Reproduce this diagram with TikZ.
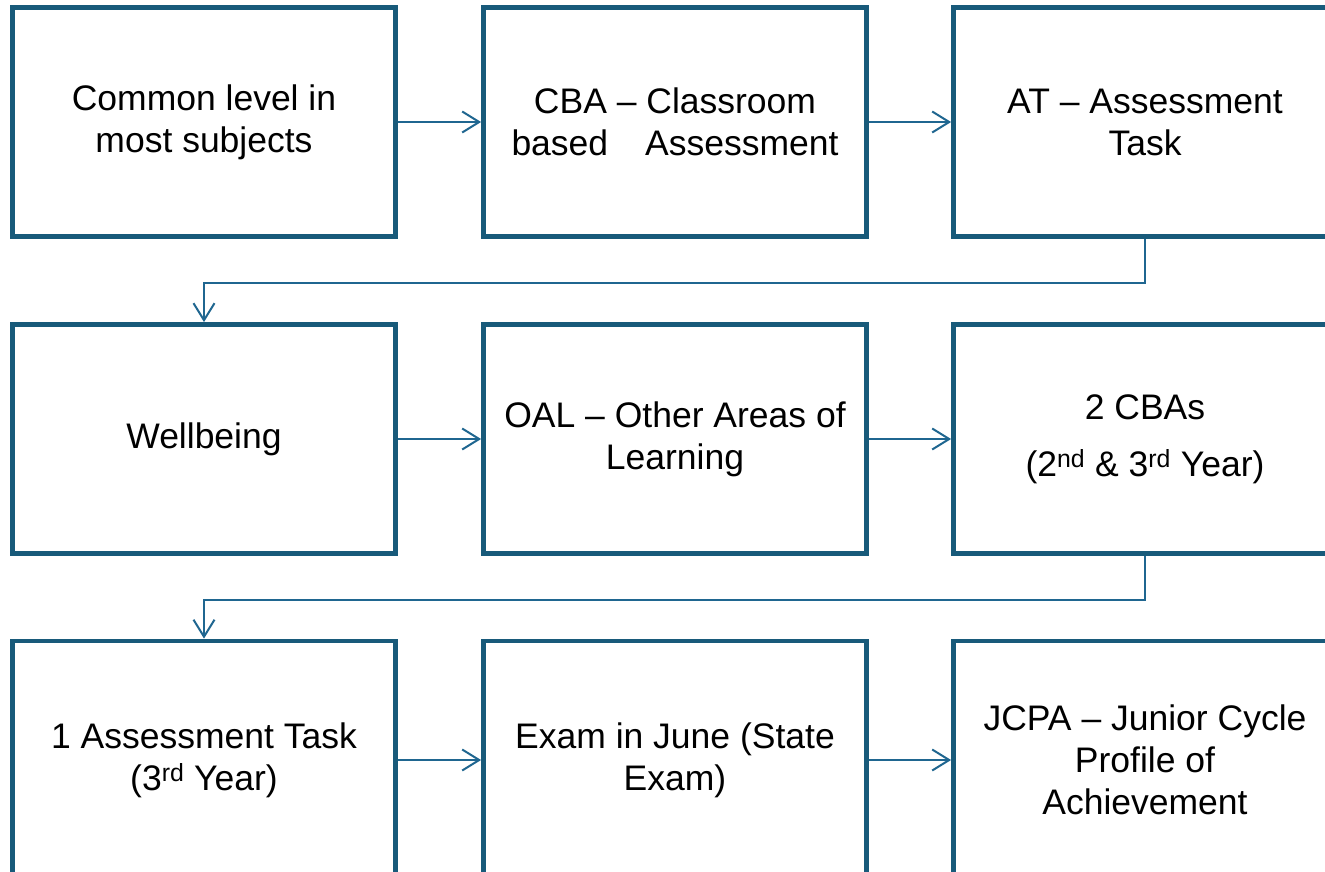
\documentclass[tikz,border=0pt]{standalone}
\usepackage{fontspec}
\setmainfont{Liberation Sans}
\usetikzlibrary{arrows.meta}
\definecolor{boxc}{HTML}{185A7A}
\definecolor{arrc}{HTML}{1F6690}
\tikzset{
  box/.style={draw=boxc, line width=4.8pt, fill=white, rectangle, minimum width=383pt, minimum height=229pt,
    align=center, inner sep=0pt, font=\fontsize{35.5}{42}\selectfont},
  lowbox/.style={box, minimum height=238pt},
  conn/.style={draw=arrc, line width=2pt, -{Straight Barb[length=17pt,width=21pt,line width=2pt]}}
}
\begin{document}
\begin{tikzpicture}[x=1pt,y=1pt]
\useasboundingbox (0,0) rectangle (1325,-871);
\node[box] (a1) at (204,-122) {Common level in\\most subjects};
\node[box] (a2) at (675,-122) {CBA -- Classroom\\\makebox[327pt]{based\hfill Assessment}};
\node[box] (a3) at (1145,-122) {AT -- Assessment\\Task};
\node[box] (b1) at (204,-439) {Wellbeing};
\node[box] (b2) at (675,-439) {OAL -- Other Areas of\\Learning};
\node[box] (b3) at (1145,-439) {2 CBAs\\[15pt](2\textsuperscript{nd} \& 3\textsuperscript{rd} Year)};
\node[lowbox] (c1) at (204,-760) {1 Assessment Task\\(3\textsuperscript{rd} Year)};
\node[lowbox] (c2) at (675,-760) {Exam in June (State\\Exam)};
\node[lowbox] (c3) at (1145,-760) {JCPA -- Junior Cycle\\Profile of\\Achievement};
\draw[conn] (a1) -- (a2);
\draw[conn] (a2) -- (a3);
\draw[conn] (b1) -- (b2);
\draw[conn] (b2) -- (b3);
\draw[conn] (c1) -- (c2);
\draw[conn] (c2) -- (c3);
\draw[conn] (a3.south) -- ++(0,-44) -| (b1.north);
\draw[conn] (b3.south) -- ++(0,-44) -| (c1.north);
\end{tikzpicture}
\end{document}
